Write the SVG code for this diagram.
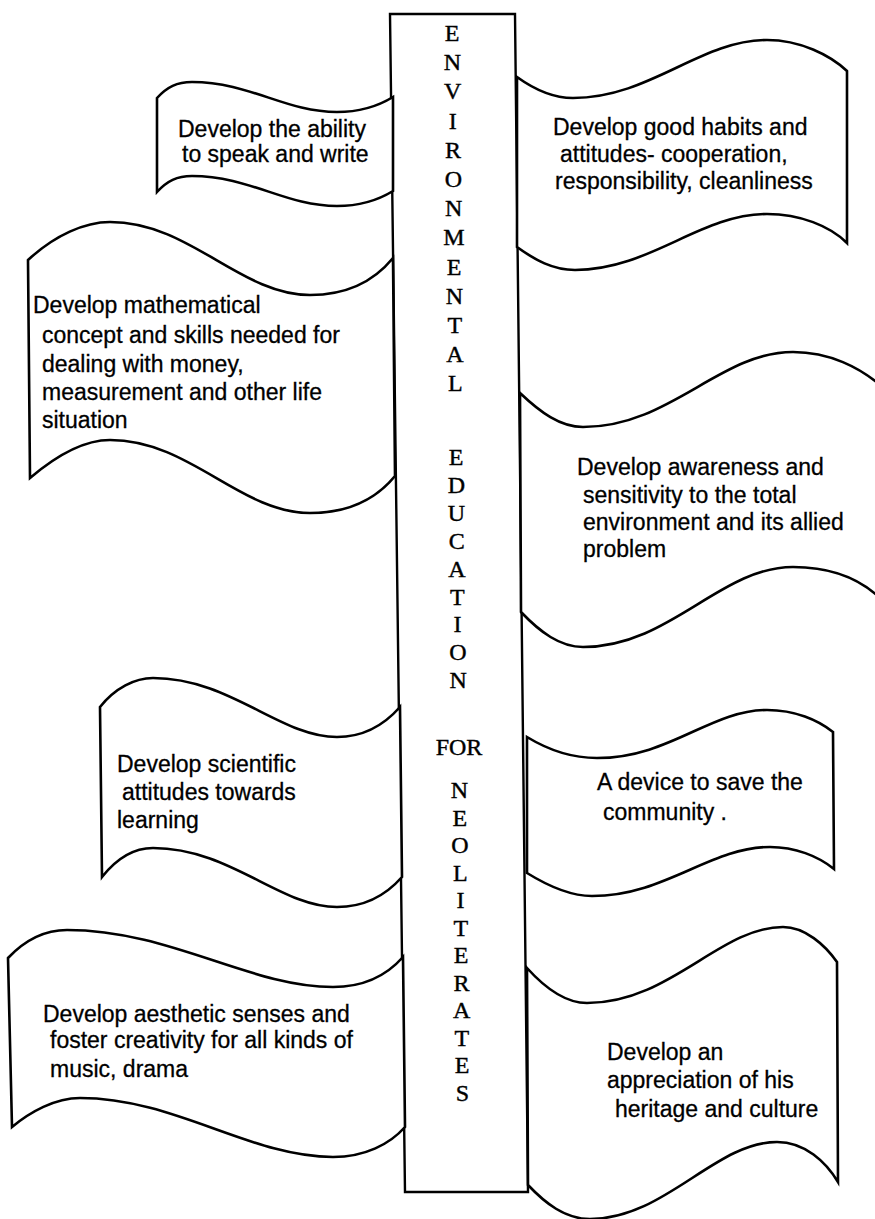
<svg xmlns="http://www.w3.org/2000/svg" width="875" height="1219" viewBox="0 0 875 1219">
<style>
.b{fill:#fff;stroke:#000;stroke-width:2.6;stroke-linejoin:miter}
.col{fill:#fff;stroke:#000;stroke-width:2.4}
.t{font-family:"Liberation Sans",Arial,sans-serif;font-size:23px;fill:#000;stroke:#000;stroke-width:0.3}
.c{font-family:"Liberation Serif","Times New Roman",serif;font-size:24px;fill:#000;stroke:#000;stroke-width:0.4;text-anchor:middle}
</style>
<rect width="875" height="1219" fill="#fff"/>
<g id="column">
<polygon class="col" points="390,14 515,14 528,1192 405,1192"/>
<text class="c" x="452" y="41">E</text>
<text class="c" x="452.3" y="70">N</text>
<text class="c" x="452.6" y="99">V</text>
<text class="c" x="452.8" y="129">I</text>
<text class="c" x="453.1" y="158">R</text>
<text class="c" x="453.4" y="187">O</text>
<text class="c" x="453.7" y="216">N</text>
<text class="c" x="453.9" y="245">M</text>
<text class="c" x="454.2" y="275">E</text>
<text class="c" x="454.5" y="304">N</text>
<text class="c" x="454.8" y="333">T</text>
<text class="c" x="455" y="362">A</text>
<text class="c" x="455.3" y="391">L</text>
<text class="c" x="456" y="465">E</text>
<text class="c" x="456.3" y="493">D</text>
<text class="c" x="456.5" y="521">U</text>
<text class="c" x="456.8" y="549">C</text>
<text class="c" x="457" y="577">A</text>
<text class="c" x="457.3" y="605">T</text>
<text class="c" x="457.6" y="632">I</text>
<text class="c" x="457.8" y="660">O</text>
<text class="c" x="458.1" y="688">N</text>
<text class="c" x="459" y="755">FOR</text>
<text class="c" x="459.5" y="798">N</text>
<text class="c" x="459.8" y="826">E</text>
<text class="c" x="460" y="853">O</text>
<text class="c" x="460.3" y="881">L</text>
<text class="c" x="460.6" y="908">I</text>
<text class="c" x="460.8" y="936">T</text>
<text class="c" x="461.1" y="963">E</text>
<text class="c" x="461.4" y="991">R</text>
<text class="c" x="461.6" y="1018">A</text>
<text class="c" x="461.9" y="1046">T</text>
<text class="c" x="462.1" y="1073">E</text>
<text class="c" x="462.4" y="1101">S</text>
</g>
<g id="banner-speak-write">
<path class="b" d="M157,98 C167,87 177,82 192,82 C250,82 285,112 337,112 C360,112 380,105 393,97 L393,191 C380,199 360,206 337,206 C285,206 250,176 192,176 C177,176 167,181 157,192 Z"/>
<text class="t" x="178" y="137">Develop the ability</text>
<text class="t" x="182" y="162">to speak and write</text>
</g>
<g id="banner-mathematical">
<path class="b" d="M28,260 C55,235 85,222 110,222 C190,222 240,295 310,295 C350,295 375,280 393,258 L395,476 C377,498 350,513 310,513 C240,513 190,440 110,440 C85,440 57,455 30,478 Z"/>
<text class="t" x="33" y="313">Develop mathematical</text>
<text class="t" x="42" y="343">concept and skills needed for</text>
<text class="t" x="42" y="372">dealing with money,</text>
<text class="t" x="42" y="400">measurement and other life</text>
<text class="t" x="42" y="428">situation</text>
</g>
<g id="banner-scientific">
<path class="b" d="M100,707 C115,688 135,678 153,678 C230,678 280,737 337,737 C365,737 385,724 400,707 L402,877 C387,894 365,907 337,907 C280,907 230,848 153,848 C135,848 117,858 102,877 Z"/>
<text class="t" x="117" y="772">Develop scientific</text>
<text class="t" x="122" y="800">attitudes towards</text>
<text class="t" x="117" y="828">learning</text>
</g>
<g id="banner-aesthetic">
<path class="b" d="M8,958 C25,940 45,930 67,930 C170,930 250,987 333,987 C365,987 388,974 403,957 L405,1127 C390,1144 365,1157 333,1157 C250,1157 175,1098 80,1098 C55,1098 30,1112 12,1127 Z"/>
<text class="t" x="43" y="1022">Develop aesthetic senses and</text>
<text class="t" x="50" y="1048">foster creativity for all kinds of</text>
<text class="t" x="50" y="1077">music, drama</text>
</g>
<g id="banner-habits">
<path class="b" d="M517,77 C535,90 553,98 573,98 C650,98 700,40 767,40 C800,40 830,55 847,71 L847,243 C830,226 800,214 767,214 C700,214 650,270 575,270 C553,270 535,260 517,247 Z"/>
<text class="t" x="553" y="135">Develop good habits and</text>
<text class="t" x="560" y="162">attitudes- cooperation,</text>
<text class="t" x="555" y="189">responsibility, cleanliness</text>
</g>
<g id="banner-awareness">
<path class="b" d="M520,393 C540,412 560,427 583,427 C670,427 720,352 793,352 C830,352 860,368 880,385 L882,600 C862,580 832,567 793,567 C720,567 670,647 583,647 C560,647 540,632 521,612 Z"/>
<text class="t" x="577" y="475">Develop awareness and</text>
<text class="t" x="583" y="503">sensitivity to the total</text>
<text class="t" x="583" y="530">environment and its allied</text>
<text class="t" x="583" y="557">problem</text>
</g>
<g id="banner-device">
<path class="b" d="M527,737 C550,751 575,758 597,758 C670,758 710,710 767,710 C795,710 818,720 833,732 L834,869 C818,856 795,847 770,847 C710,847 665,896 592,896 C570,896 548,886 527,873 Z"/>
<text class="t" x="597" y="790">A device to save the</text>
<text class="t" x="603" y="820">community .</text>
</g>
<g id="banner-heritage">
<path class="b" d="M527,968 C545,988 565,1003 587,1003 C670,1003 720,927 783,927 C805,927 825,945 837,962 L838,1182 C826,1162 805,1142 777,1142 C715,1142 665,1219 590,1219 C565,1219 545,1203 528,1185 Z"/>
<text class="t" x="607" y="1060">Develop an</text>
<text class="t" x="607" y="1088">appreciation of his</text>
<text class="t" x="615" y="1117">heritage and culture</text>
</g>
<g id="connectors"></g>
</svg>
